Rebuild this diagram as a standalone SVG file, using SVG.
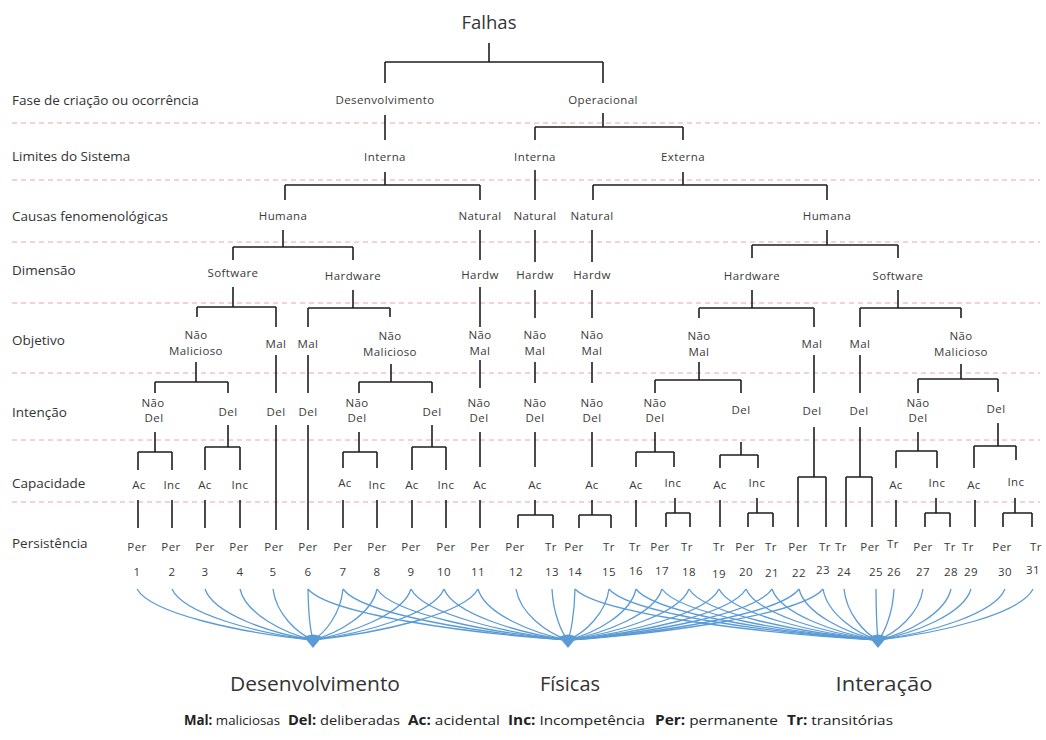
<svg xmlns="http://www.w3.org/2000/svg" width="1046" height="740" viewBox="0 0 1046 740">
  <style>
    text { font-family: "Open Sans", "Noto Sans", "DejaVu Sans", sans-serif; }
    .row { font-size: 13.5px; fill: #333; }
    .nd { font-size: 11.5px; letter-spacing: 0.4px; fill: #3a3a3a; text-anchor: middle; }
    .title { font-size: 18.5px; fill: #333; text-anchor: middle; }
    .cls { font-size: 20px; fill: #333; text-anchor: middle; }
    .leg { font-size: 13.5px; fill: #222; }
    .leg tspan.k { font-weight: bold; }
    .guide { stroke: #e6a6a6; stroke-width: 1; stroke-dasharray: 5 4; fill: none; }
    .conn { stroke: #1e1e1e; stroke-width: 1.6; fill: none; }
    .fan { stroke: #5b9bd5; stroke-width: 1.3; fill: none; }
    .hub { fill: #5b9bd5; }
  </style>
  <rect width="1046" height="740" fill="#fff"/>

  <!-- level separators -->
  <g id="guides" class="guide">
    <line x1="12" y1="123" x2="1040" y2="123"/>
    <line x1="12" y1="180" x2="1040" y2="180"/>
    <line x1="12" y1="242" x2="1040" y2="242"/>
    <line x1="12" y1="303" x2="1040" y2="303"/>
    <line x1="12" y1="373" x2="1040" y2="373"/>
    <line x1="12" y1="440" x2="1040" y2="440"/>
    <line x1="12" y1="502" x2="1040" y2="502"/>
  </g>

  <!-- level names -->
  <g id="row-labels" class="row">
    <text x="12" y="105">Fase de criação ou ocorrência</text>
    <text x="12" y="161">Limites do Sistema</text>
    <text x="12" y="221">Causas fenomenológicas</text>
    <text x="12" y="275">Dimensão</text>
    <text x="12" y="345">Objetivo</text>
    <text x="12" y="417">Intenção</text>
    <text x="12" y="488">Capacidade</text>
    <text x="12" y="548">Persistência</text>
  </g>

  <!-- tree connectors -->
  <g id="connectors" class="conn">
    <path d="M489,43 V62 M385,62 H603 M385,62 V83 M603,62 V83"/>
    <path d="M385,115 V140"/>
    <path d="M385,172 V185 M285,185 H480 M285,185 V200 M480,185 V200"/>
    <path d="M283,230 V247 M233,247 H353 M233,247 V260 M353,247 V260"/>
    <path d="M480,230 V260"/>
    <path d="M233,287 V307 M197,307 H276 M197,307 V317 M276,307 V327"/>
    <path d="M353,290 V308 M308,308 H390 M308,308 V327 M390,308 V317"/>
    <path d="M480,287 V327"/>
    <path d="M196,362 V382 M155,382 H228 M155,382 V393 M228,382 V393"/>
    <path d="M276,355 V393 M308,355 V393"/>
    <path d="M391,364 V382 M359,382 H432 M359,382 V393 M432,382 V393"/>
    <path d="M480,360 V388"/>
    <path d="M155,432 V452 M138,452 H172 M138,452 V470 M172,452 V470"/>
    <path d="M228,425 V447 M205,447 H240 M205,447 V470 M240,447 V470"/>
    <path d="M276,425 V530 M308,425 V530"/>
    <path d="M359,432 V452 M343,452 H377 M343,452 V468 M377,452 V468"/>
    <path d="M432,425 V447 M412,447 H446 M412,447 V470 M446,447 V470"/>
    <path d="M480,432 V467"/>
    <path d="M138,500 V528 M172,500 V528 M205,500 V528 M240,500 V528 M343,500 V528 M377,500 V528 M412,500 V528 M446,500 V528 M480,500 V528"/>

    <path d="M603,113 V127 M535,127 H683 M535,127 V140 M683,127 V140"/>
    <path d="M535,170 V200"/>
    <path d="M683,172 V185 M593,185 H827 M593,185 V200 M827,185 V200"/>
    <path d="M535,230 V262 M592,230 V262"/>
    <path d="M827,230 V245 M752,245 H898 M752,245 V258 M898,245 V258"/>
    <path d="M535,290 V318 M592,290 V318"/>
    <path d="M752,290 V308 M699,308 H814 M699,308 V318 M814,308 V327"/>
    <path d="M898,290 V308 M860,308 H961 M860,308 V327 M961,308 V318"/>
    <path d="M535,362 V383 M592,362 V383"/>
    <path d="M699,362 V380 M655,380 H741 M655,380 V393 M741,380 V393"/>
    <path d="M814,355 V393 M860,355 V393"/>
    <path d="M961,364 V379 M918,379 H998 M918,379 V393 M998,379 V392"/>
    <path d="M535,432 V467 M592,432 V467"/>
    <path d="M655,432 V452 M636,452 H674 M636,452 V467 M674,452 V467"/>
    <path d="M741,442 V455 M720,455 H758 M720,455 V468 M758,455 V468"/>
    <path d="M814,427 V477 M798,477 H826 M798,477 V527 M826,477 V527"/>
    <path d="M860,427 V477 M846,477 H872 M846,477 V527 M872,477 V527"/>
    <path d="M918,432 V451 M896,451 H937 M896,451 V468 M937,451 V468"/>
    <path d="M998,423 V446 M974,446 H1016 M974,446 V468 M1016,446 V460"/>
    <path d="M535,500 V515 M518,515 H553 M518,515 V528 M553,515 V528"/>
    <path d="M592,500 V515 M579,515 H611 M579,515 V528 M611,515 V528"/>
    <path d="M636,500 V527 M720,500 V527 M896,500 V527 M975,500 V527"/>
    <path d="M675,498 V513 M666,513 H690 M666,513 V527 M690,513 V527"/>
    <path d="M757,498 V513 M748,513 H773 M748,513 V527 M773,513 V527"/>
    <path d="M936,498 V513 M925,513 H950 M925,513 V527 M950,513 V527"/>
    <path d="M1015,498 V513 M1003,513 H1032 M1003,513 V527 M1032,513 V527"/>
  </g>

  <!-- tree nodes -->
  <g id="n-falhas"><text class="title" x="489" y="29">Falhas</text></g>
  <g id="n-desenv"><text class="nd" x="385" y="104">Desenvolvimento</text></g>
  <g id="n-oper"><text class="nd" x="603" y="104">Operacional</text></g>
  <g id="n-interna-d"><text class="nd" x="385" y="161">Interna</text></g>
  <g id="n-interna-o"><text class="nd" x="535" y="161">Interna</text></g>
  <g id="n-externa"><text class="nd" x="683" y="161">Externa</text></g>
  <g id="n-humana-d"><text class="nd" x="283" y="220">Humana</text></g>
  <g id="n-natural-d"><text class="nd" x="480" y="220">Natural</text></g>
  <g id="n-natural-i"><text class="nd" x="535" y="220">Natural</text></g>
  <g id="n-natural-e"><text class="nd" x="592" y="220">Natural</text></g>
  <g id="n-humana-e"><text class="nd" x="827" y="220">Humana</text></g>
  <g id="n-sw-d"><text class="nd" x="233" y="277">Software</text></g>
  <g id="n-hw-d"><text class="nd" x="353" y="280">Hardware</text></g>
  <g id="n-hdw-d"><text class="nd" x="480" y="279">Hardw</text></g>
  <g id="n-hdw-i"><text class="nd" x="535" y="279">Hardw</text></g>
  <g id="n-hdw-e"><text class="nd" x="592" y="279">Hardw</text></g>
  <g id="n-hw-e"><text class="nd" x="752" y="280">Hardware</text></g>
  <g id="n-sw-e"><text class="nd" x="898" y="280">Software</text></g>

  <g id="n-obj-1"><text class="nd" x="196" y="339">Não</text><text class="nd" x="196" y="355">Malicioso</text></g>
  <g id="n-obj-2"><text class="nd" x="276" y="348">Mal</text></g>
  <g id="n-obj-3"><text class="nd" x="308" y="348">Mal</text></g>
  <g id="n-obj-4"><text class="nd" x="390" y="340">Não</text><text class="nd" x="390" y="356">Malicioso</text></g>
  <g id="n-obj-5"><text class="nd" x="480" y="339">Não</text><text class="nd" x="480" y="355">Mal</text></g>
  <g id="n-obj-6"><text class="nd" x="535" y="339">Não</text><text class="nd" x="535" y="355">Mal</text></g>
  <g id="n-obj-7"><text class="nd" x="592" y="339">Não</text><text class="nd" x="592" y="355">Mal</text></g>
  <g id="n-obj-8"><text class="nd" x="699" y="340">Não</text><text class="nd" x="699" y="356">Mal</text></g>
  <g id="n-obj-9"><text class="nd" x="812" y="348">Mal</text></g>
  <g id="n-obj-10"><text class="nd" x="860" y="348">Mal</text></g>
  <g id="n-obj-11"><text class="nd" x="961" y="340">Não</text><text class="nd" x="961" y="356">Malicioso</text></g>

  <g id="n-int-1"><text class="nd" x="153" y="407">Não</text><text class="nd" x="154" y="422">Del</text></g>
  <g id="n-int-2"><text class="nd" x="228" y="416">Del</text></g>
  <g id="n-int-3"><text class="nd" x="276" y="416">Del</text></g>
  <g id="n-int-4"><text class="nd" x="308" y="416">Del</text></g>
  <g id="n-int-5"><text class="nd" x="357" y="407">Não</text><text class="nd" x="357" y="422">Del</text></g>
  <g id="n-int-6"><text class="nd" x="432" y="416">Del</text></g>
  <g id="n-int-7"><text class="nd" x="479" y="407">Não</text><text class="nd" x="479" y="422">Del</text></g>
  <g id="n-int-8"><text class="nd" x="535" y="407">Não</text><text class="nd" x="535" y="422">Del</text></g>
  <g id="n-int-9"><text class="nd" x="592" y="407">Não</text><text class="nd" x="592" y="422">Del</text></g>
  <g id="n-int-10"><text class="nd" x="655" y="407">Não</text><text class="nd" x="655" y="422">Del</text></g>
  <g id="n-int-11"><text class="nd" x="741" y="414">Del</text></g>
  <g id="n-int-12"><text class="nd" x="812" y="415">Del</text></g>
  <g id="n-int-13"><text class="nd" x="859" y="415">Del</text></g>
  <g id="n-int-14"><text class="nd" x="918" y="407">Não</text><text class="nd" x="918" y="422">Del</text></g>
  <g id="n-int-15"><text class="nd" x="996" y="413">Del</text></g>

  <g id="n-cap-1"><text class="nd" x="139" y="489">Ac</text></g>
  <g id="n-cap-2"><text class="nd" x="172" y="489">Inc</text></g>
  <g id="n-cap-3"><text class="nd" x="205" y="489">Ac</text></g>
  <g id="n-cap-4"><text class="nd" x="240" y="489">Inc</text></g>
  <g id="n-cap-5"><text class="nd" x="345" y="487">Ac</text></g>
  <g id="n-cap-6"><text class="nd" x="377" y="489">Inc</text></g>
  <g id="n-cap-7"><text class="nd" x="412" y="489">Ac</text></g>
  <g id="n-cap-8"><text class="nd" x="446" y="489">Inc</text></g>
  <g id="n-cap-9"><text class="nd" x="480" y="489">Ac</text></g>
  <g id="n-cap-10"><text class="nd" x="535" y="489">Ac</text></g>
  <g id="n-cap-11"><text class="nd" x="592" y="489">Ac</text></g>
  <g id="n-cap-12"><text class="nd" x="636" y="489">Ac</text></g>
  <g id="n-cap-13"><text class="nd" x="673" y="487">Inc</text></g>
  <g id="n-cap-14"><text class="nd" x="720" y="489">Ac</text></g>
  <g id="n-cap-15"><text class="nd" x="757" y="487">Inc</text></g>
  <g id="n-cap-16"><text class="nd" x="896" y="489">Ac</text></g>
  <g id="n-cap-17"><text class="nd" x="937" y="487">Inc</text></g>
  <g id="n-cap-18"><text class="nd" x="974" y="489">Ac</text></g>
  <g id="n-cap-19"><text class="nd" x="1016" y="486">Inc</text></g>

  <!-- leaves: persistence and class number -->
  <g id="leaves" class="nd">
    <text x="137" y="551">Per</text><text x="137" y="576">1</text>
    <text x="171" y="551">Per</text><text x="172" y="576">2</text>
    <text x="205" y="551">Per</text><text x="205" y="576">3</text>
    <text x="239" y="551">Per</text><text x="240" y="576">4</text>
    <text x="274" y="551">Per</text><text x="273" y="576">5</text>
    <text x="308" y="551">Per</text><text x="308" y="576">6</text>
    <text x="343" y="551">Per</text><text x="343" y="576">7</text>
    <text x="377" y="551">Per</text><text x="377" y="576">8</text>
    <text x="411" y="551">Per</text><text x="411" y="576">9</text>
    <text x="446" y="551">Per</text><text x="444" y="576">10</text>
    <text x="480" y="551">Per</text><text x="478" y="576">11</text>
    <text x="515" y="551">Per</text><text x="516" y="576">12</text>
    <text x="551" y="551">Tr</text><text x="552" y="576">13</text>
    <text x="574" y="551">Per</text><text x="575" y="576">14</text>
    <text x="609" y="551">Tr</text><text x="609" y="576">15</text>
    <text x="635" y="551">Tr</text><text x="636" y="575">16</text>
    <text x="660" y="551">Per</text><text x="662" y="575">17</text>
    <text x="687" y="551">Tr</text><text x="689" y="576">18</text>
    <text x="719" y="551">Tr</text><text x="719" y="578">19</text>
    <text x="745" y="551">Per</text><text x="746" y="576">20</text>
    <text x="771" y="551">Tr</text><text x="772" y="577">21</text>
    <text x="798" y="551">Per</text><text x="799" y="577">22</text>
    <text x="825" y="551">Tr</text><text x="823" y="574">23</text>
    <text x="841" y="551">Tr</text><text x="844" y="576">24</text>
    <text x="870" y="551">Per</text><text x="876" y="576">25</text>
    <text x="893" y="548">Tr</text><text x="894" y="576">26</text>
    <text x="923" y="551">Per</text><text x="923" y="576">27</text>
    <text x="950" y="551">Tr</text><text x="951" y="576">28</text>
    <text x="968" y="551">Tr</text><text x="971" y="576">29</text>
    <text x="1002" y="551">Per</text><text x="1005" y="576">30</text>
    <text x="1036" y="551">Tr</text><text x="1033" y="574">31</text>
  </g>

  <!-- grouping fans: each class number to its fault group -->
  <g id="fan-desenvolvimento" class="fan">
    <path d="M137,589 C151.1,614 242.6,633 313,640"/>
    <path d="M172,589 C183.3,614 256.6,633 313,640"/>
    <path d="M205,589 C213.6,614 269.8,633 313,640"/>
    <path d="M240,589 C245.8,614 283.8,633 313,640"/>
    <path d="M273,589 C276.2,614 297,633 313,640"/>
    <path d="M308,589 C308.4,614 311,633 313,640"/>
    <path d="M343,589 C340.6,614 325,633 313,640"/>
    <path d="M377,589 C371.9,614 338.6,633 313,640"/>
    <path d="M411,589 C403.2,614 352.2,633 313,640"/>
    <path d="M444,589 C433.5,614 365.4,633 313,640"/>
    <path d="M478,589 C464.8,614 379,633 313,640"/>
  </g>
  <g id="fan-fisicas" class="fan">
    <path d="M308,589 C328.8,614 464,633 568,640"/>
    <path d="M343,589 C361,614 478,633 568,640"/>
    <path d="M377,589 C392.3,614 491.6,633 568,640"/>
    <path d="M411,589 C423.6,614 505.2,633 568,640"/>
    <path d="M444,589 C453.9,614 518.4,633 568,640"/>
    <path d="M478,589 C485.2,614 532,633 568,640"/>
    <path d="M516,589 C520.2,614 547.2,633 568,640"/>
    <path d="M552,589 C553.3,614 561.6,633 568,640"/>
    <path d="M575,589 C574.4,614 570.8,633 568,640"/>
    <path d="M609,589 C605.7,614 584.4,633 568,640"/>
    <path d="M636,589 C630.6,614 595.2,633 568,640"/>
    <path d="M662,589 C654.5,614 605.6,633 568,640"/>
    <path d="M689,589 C679.3,614 616.4,633 568,640"/>
    <path d="M719,589 C706.9,614 628.4,633 568,640"/>
    <path d="M746,589 C731.8,614 639.2,633 568,640"/>
    <path d="M772,589 C755.7,614 649.6,633 568,640"/>
    <path d="M799,589 C780.5,614 660.4,633 568,640"/>
    <path d="M823,589 C802.6,614 670,633 568,640"/>
  </g>
  <g id="fan-interacao" class="fan">
    <path d="M575,589 C599.2,614 756.8,633 878,640"/>
    <path d="M609,589 C630.5,614 770.4,633 878,640"/>
    <path d="M636,589 C655.4,614 781.2,633 878,640"/>
    <path d="M662,589 C679.3,614 791.6,633 878,640"/>
    <path d="M689,589 C704.1,614 802.4,633 878,640"/>
    <path d="M719,589 C731.7,614 814.4,633 878,640"/>
    <path d="M746,589 C756.6,614 825.2,633 878,640"/>
    <path d="M772,589 C780.5,614 835.6,633 878,640"/>
    <path d="M799,589 C805.3,614 846.4,633 878,640"/>
    <path d="M823,589 C827.4,614 856,633 878,640"/>
    <path d="M844,589 C846.7,614 864.4,633 878,640"/>
    <path d="M876,589 C876.2,614 877.2,633 878,640"/>
    <path d="M894,589 C892.7,614 884.4,633 878,640"/>
    <path d="M923,589 C919.4,614 896,633 878,640"/>
    <path d="M951,589 C945.2,614 907.2,633 878,640"/>
    <path d="M971,589 C963.6,614 915.2,633 878,640"/>
    <path d="M1005,589 C994.8,614 928.8,633 878,640"/>
    <path d="M1033,589 C1020.6,614 940,633 878,640"/>
  </g>

  <!-- fault groups -->
  <g id="g-desenvolvimento">
    <path class="hub" d="M304,637 Q313,632 322,637 L313,648 Z"/>
    <text class="cls" x="315" y="691" textLength="170" lengthAdjust="spacingAndGlyphs">Desenvolvimento</text>
  </g>
  <g id="g-fisicas">
    <path class="hub" d="M559,637 Q568,632 577,637 L568,648 Z"/>
    <text class="cls" x="570" y="691" textLength="60" lengthAdjust="spacingAndGlyphs">Físicas</text>
  </g>
  <g id="g-interacao">
    <path class="hub" d="M869,637 Q878,632 887,637 L878,648 Z"/>
    <text class="cls" x="884" y="691" textLength="97" lengthAdjust="spacingAndGlyphs">Interação</text>
  </g>

  <!-- abbreviations -->
  <g id="legend" class="leg">
    <text x="184" y="725" textLength="96" lengthAdjust="spacingAndGlyphs"><tspan class="k">Mal:</tspan> maliciosas</text>
    <text x="288" y="725" textLength="112" lengthAdjust="spacingAndGlyphs"><tspan class="k">Del:</tspan> deliberadas</text>
    <text x="408" y="725" textLength="92" lengthAdjust="spacingAndGlyphs"><tspan class="k">Ac:</tspan> acidental</text>
    <text x="508" y="725" textLength="137" lengthAdjust="spacingAndGlyphs"><tspan class="k">Inc:</tspan> Incompetência</text>
    <text x="655" y="725" textLength="123" lengthAdjust="spacingAndGlyphs"><tspan class="k">Per:</tspan> permanente</text>
    <text x="787" y="725" textLength="106" lengthAdjust="spacingAndGlyphs"><tspan class="k">Tr:</tspan> transitórias</text>
  </g>
</svg>
